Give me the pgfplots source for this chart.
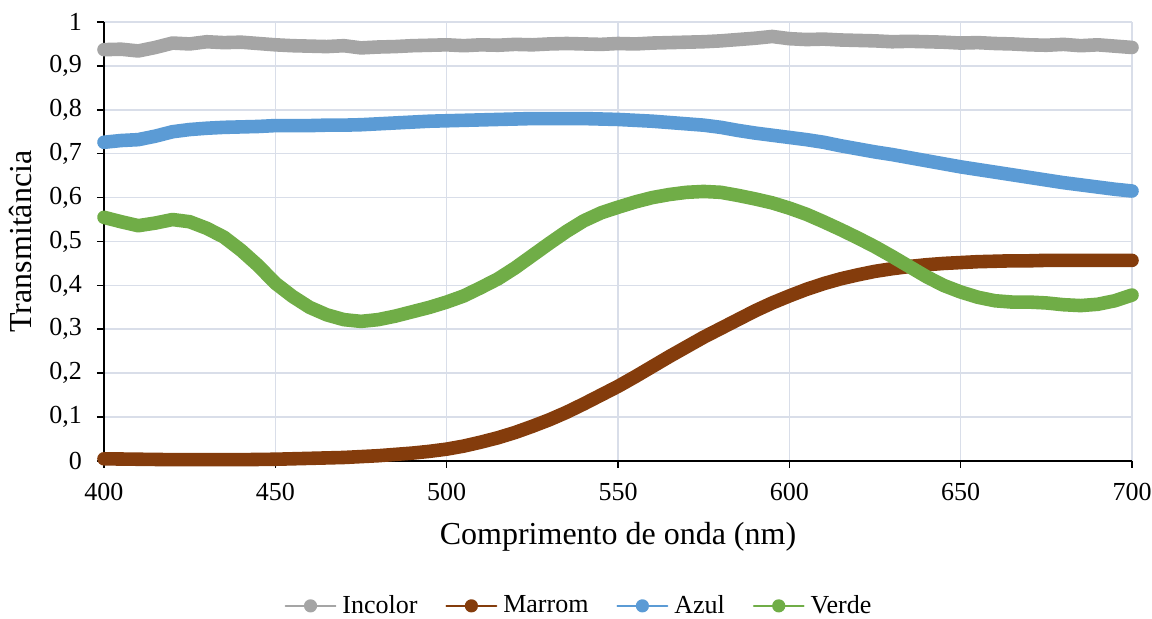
\documentclass[border=0pt]{standalone}
\usepackage{pgfplots}
\pgfplotsset{compat=1.18}
\usepackage{fontspec}
\setmainfont{Liberation Serif}
\definecolor{cgray}{HTML}{A5A5A5}
\definecolor{cbrown}{HTML}{843C0C}
\definecolor{cblue}{HTML}{5B9BD5}
\definecolor{cgreen}{HTML}{70AD47}
\definecolor{gridc}{HTML}{D9DEE9}
\begin{document}
\begin{tikzpicture}
\useasboundingbox (-52pt,-79pt) rectangle (524pt,230.5pt);
\begin{axis}[
  at={(0,0)}, anchor=south west,
  scale only axis, width=514pt, height=219.5pt,
  xmin=400, xmax=700, ymin=0, ymax=1,
  xtick={400,450,...,700},
  ytick={0,0.1,...,1.0},
  axis lines=left, axis line style={-, black, line width=0.8pt},
  tick align=outside, major tick length=3.5pt,
  tick style={black, line width=0.8pt},
  grid=major, grid style={gridc, line width=0.8pt},
  clip=false,
  font=\fontsize{13}{15}\selectfont,
  /pgf/number format/assume math mode=true,
  yticklabel style={xshift=-4pt, /pgf/number format/.cd, use comma, fixed, precision=1},
  xticklabel style={yshift=-4pt, /pgf/number format/.cd, fixed, set thousands separator={}},
  xlabel={Comprimento de onda (nm)},
  ylabel={Transmitância},
  xlabel style={yshift=-4pt},
  ylabel style={yshift=2pt},
  label style={font=\fontsize{16}{19}\selectfont},
  legend columns=4,
  legend style={at={(0.463,-0.330)}, anchor=center, draw=none, fill=none,
    font=\fontsize{13}{15}\selectfont,
    /tikz/every odd column/.append style={column sep=1pt},
    /tikz/every even column/.append style={column sep=12pt}},
  legend image code/.code={
    \draw[#1, line width=0.9pt] (0pt,0pt) -- (25pt,0pt);
    \fill[#1, draw=none] (12.5pt,0pt) circle (3.3pt);
  },
  every axis plot/.append style={line width=6.8pt, line cap=round, line join=round},
]
\addplot[cgray] table {
400 0.937
405 0.938
410 0.934
415 0.942
420 0.952
425 0.950
430 0.955
435 0.953
440 0.954
445 0.951
450 0.948
455 0.946
460 0.945
465 0.944
470 0.946
475 0.941
480 0.943
485 0.944
490 0.946
495 0.947
500 0.948
505 0.946
510 0.948
515 0.947
520 0.949
525 0.948
530 0.950
535 0.951
540 0.950
545 0.949
550 0.951
555 0.950
560 0.952
565 0.953
570 0.954
575 0.955
580 0.957
585 0.960
590 0.963
595 0.967
600 0.962
605 0.960
610 0.961
615 0.959
620 0.958
625 0.957
630 0.955
635 0.956
640 0.955
645 0.954
650 0.952
655 0.953
660 0.951
665 0.950
670 0.948
675 0.947
680 0.949
685 0.946
690 0.948
695 0.945
700 0.942
};
\addlegendentry{Incolor}
\addplot[cbrown] table {
400 0.005
410 0.004
420 0.003
430 0.003
440 0.003
450 0.004
455 0.005
460 0.006
465 0.007
470 0.008
475 0.010
480 0.012
485 0.015
490 0.018
495 0.022
500 0.027
505 0.034
510 0.043
515 0.053
520 0.065
525 0.079
530 0.094
535 0.111
540 0.130
545 0.150
550 0.170
555 0.192
560 0.215
565 0.238
570 0.260
575 0.282
580 0.302
585 0.322
590 0.342
595 0.360
600 0.376
605 0.391
610 0.404
615 0.415
620 0.424
625 0.432
630 0.438
635 0.443
640 0.447
645 0.450
650 0.452
655 0.454
660 0.455
665 0.456
670 0.456
675 0.457
680 0.457
685 0.457
690 0.457
695 0.457
700 0.457
};
\addlegendentry{Marrom}
\addplot[cblue] table {
400 0.726
405 0.730
410 0.732
415 0.740
420 0.750
425 0.755
430 0.758
435 0.760
440 0.761
445 0.762
450 0.764
455 0.764
460 0.764
465 0.765
470 0.765
475 0.766
480 0.768
485 0.770
490 0.772
495 0.774
500 0.775
505 0.776
510 0.777
515 0.778
520 0.779
525 0.780
530 0.780
535 0.780
540 0.780
545 0.779
550 0.778
555 0.776
560 0.774
565 0.771
570 0.768
575 0.765
580 0.760
585 0.753
590 0.747
595 0.742
600 0.737
605 0.732
610 0.726
615 0.718
620 0.711
625 0.704
630 0.698
635 0.691
640 0.684
645 0.677
650 0.670
655 0.664
660 0.658
665 0.652
670 0.646
675 0.640
680 0.634
685 0.629
690 0.624
695 0.619
700 0.615
};
\addlegendentry{Azul}
\addplot[cgreen] table {
400 0.555
405 0.545
410 0.536
415 0.542
420 0.550
425 0.545
430 0.530
435 0.510
440 0.480
445 0.445
450 0.405
455 0.375
460 0.350
465 0.333
470 0.322
475 0.318
480 0.322
485 0.330
490 0.340
495 0.350
500 0.362
505 0.376
510 0.395
515 0.415
520 0.440
525 0.468
530 0.496
535 0.523
540 0.547
545 0.565
550 0.578
555 0.590
560 0.600
565 0.607
570 0.612
575 0.614
580 0.612
585 0.605
590 0.597
595 0.588
600 0.576
605 0.562
610 0.545
615 0.527
620 0.508
625 0.488
630 0.466
635 0.443
640 0.420
645 0.400
650 0.385
655 0.373
660 0.365
665 0.362
670 0.362
675 0.360
680 0.356
685 0.354
690 0.357
695 0.365
700 0.378
};
\addlegendentry{Verde}
\end{axis}
\end{tikzpicture}
\end{document}
